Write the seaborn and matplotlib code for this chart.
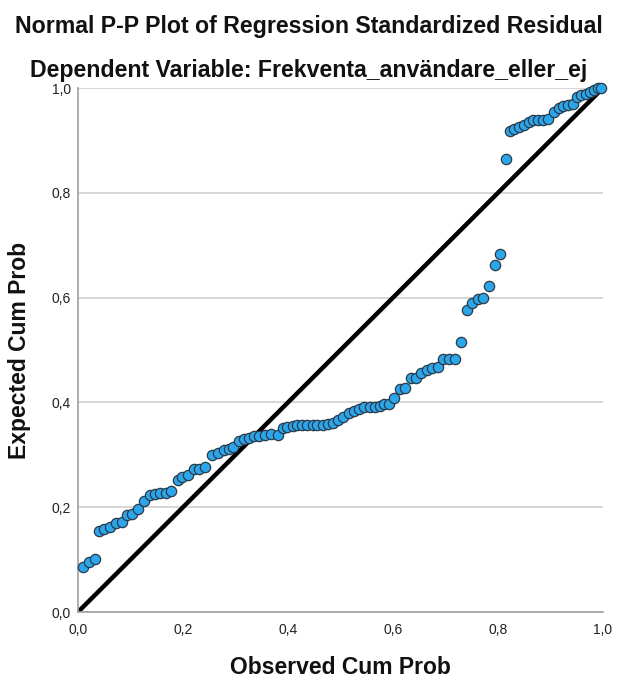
import matplotlib
matplotlib.use("Agg")
import matplotlib.pyplot as plt
import seaborn as sns
import pandas as pd

# Observed vs expected cumulative probabilities of the standardized residuals
observed = [
    0.010, 0.021, 0.032,
    0.040, 0.050, 0.061, 0.072, 0.083, 0.093, 0.102, 0.115, 0.126, 0.137,
    0.147, 0.156, 0.167, 0.178, 0.190, 0.199, 0.210, 0.220, 0.230, 0.241,
    0.256, 0.267, 0.278, 0.288, 0.296, 0.307, 0.316, 0.326, 0.335, 0.345,
    0.356, 0.367, 0.380, 0.390, 0.399, 0.409, 0.418, 0.427, 0.437, 0.447,
    0.456, 0.466, 0.477, 0.486,
    0.496, 0.505, 0.516, 0.526, 0.535, 0.545, 0.556, 0.566, 0.575, 0.583,
    0.592, 0.602, 0.613, 0.623, 0.634, 0.643, 0.653, 0.664, 0.675, 0.686,
    0.696, 0.707, 0.718, 0.729,
    0.740, 0.750, 0.761, 0.772, 0.783, 0.794, 0.804,
    0.815, 0.823, 0.831, 0.840, 0.850, 0.859, 0.867, 0.877, 0.886, 0.896,
    0.907, 0.916, 0.924, 0.933, 0.942, 0.950, 0.958, 0.967, 0.975, 0.983,
    0.991, 0.997,
]
expected = [
    0.085, 0.096, 0.101,
    0.155, 0.158, 0.162, 0.169, 0.171, 0.185, 0.187, 0.196, 0.212, 0.223,
    0.226, 0.228, 0.228, 0.231, 0.251, 0.258, 0.261, 0.272, 0.272, 0.276,
    0.300, 0.304, 0.309, 0.311, 0.315, 0.326, 0.330, 0.333, 0.335, 0.336,
    0.338, 0.339, 0.338, 0.351, 0.353, 0.355, 0.357, 0.357, 0.357, 0.357,
    0.357, 0.357, 0.358, 0.361,
    0.366, 0.373, 0.380, 0.384, 0.387, 0.391, 0.392, 0.392, 0.393, 0.397,
    0.397, 0.408, 0.425, 0.427, 0.446, 0.446, 0.457, 0.461, 0.465, 0.468,
    0.482, 0.482, 0.483, 0.515,
    0.576, 0.589, 0.597, 0.600, 0.622, 0.662, 0.684,
    0.864, 0.917, 0.921, 0.926, 0.929, 0.935, 0.939, 0.939, 0.939, 0.940,
    0.955, 0.961, 0.966, 0.968, 0.970, 0.983, 0.986, 0.988, 0.993, 0.996,
    1.000, 1.000,
]
ref_line = [0.0, 1.0]
tick_values = [0.0, 0.2, 0.4, 0.6, 0.8, 1.0]
tick_labels = ["0,0", "0,2", "0,4", "0,6", "0,8", "1,0"]

title = "Normal P-P Plot of Regression Standardized Residual"
subtitle = "Dependent Variable: Frekventa_användare_eller_ej"
x_label = "Observed Cum Prob"
y_label = "Expected Cum Prob"

sns.set_theme(style="white")
plt.rcParams["font.family"] = ["Liberation Sans", "DejaVu Sans"]

df = pd.DataFrame({"observed": observed, "expected": expected})
line_df = pd.DataFrame({"x": ref_line, "y": ref_line})

fig = plt.figure(figsize=(6.17, 6.80), dpi=100)
ax = fig.add_axes([78 / 617, 1 - 612 / 680, 525 / 617, 524 / 680])

ax.set_xlim(0, 1)
ax.set_ylim(0, 1)
ax.set_yticks(tick_values)
ax.set_xticks(tick_values)
ax.yaxis.grid(True, color="#d0d0d0", linewidth=1.2)
ax.xaxis.grid(False)
ax.set_axisbelow(True)

sns.lineplot(data=line_df, x="x", y="y", ax=ax, color="black",
             linewidth=3.2, zorder=2, legend=False)
sns.scatterplot(data=df, x="observed", y="expected", ax=ax, s=55,
                color="#2ba6ea", edgecolor="#2b3a48", linewidth=0.9,
                zorder=3, clip_on=False, legend=False)

ax.set_xticklabels(tick_labels, fontsize=10, color="#222222")
ax.set_yticklabels(tick_labels, fontsize=10, color="#222222")
ax.tick_params(axis="x", length=0, pad=8)
ax.tick_params(axis="y", length=0, pad=5)

for side in ("top", "right"):
    ax.spines[side].set_visible(False)
for side in ("left", "bottom"):
    ax.spines[side].set_color("#a0a0a0")
    ax.spines[side].set_linewidth(1.2)

ax.set_xlabel(x_label, fontsize=16.5, fontweight="bold", color="#111111")
ax.set_ylabel(y_label, fontsize=16.5, fontweight="bold", color="#111111")
ax.xaxis.set_label_coords(0.5 - 0.0, (612 - 667) / 524)
ax.xaxis.label.set_va("center")
ax.yaxis.set_label_coords((20 - 78) / 525, 0.5)
ax.yaxis.label.set_va("center")

fig.text(0.5, 1 - 27 / 680, title, ha="center", va="center",
         fontsize=16.7, fontweight="bold", color="#111111")
fig.text(0.5, 1 - 70 / 680, subtitle, ha="center", va="center",
         fontsize=16.7, fontweight="bold", color="#111111")

fig.savefig("out.png", dpi=100)
